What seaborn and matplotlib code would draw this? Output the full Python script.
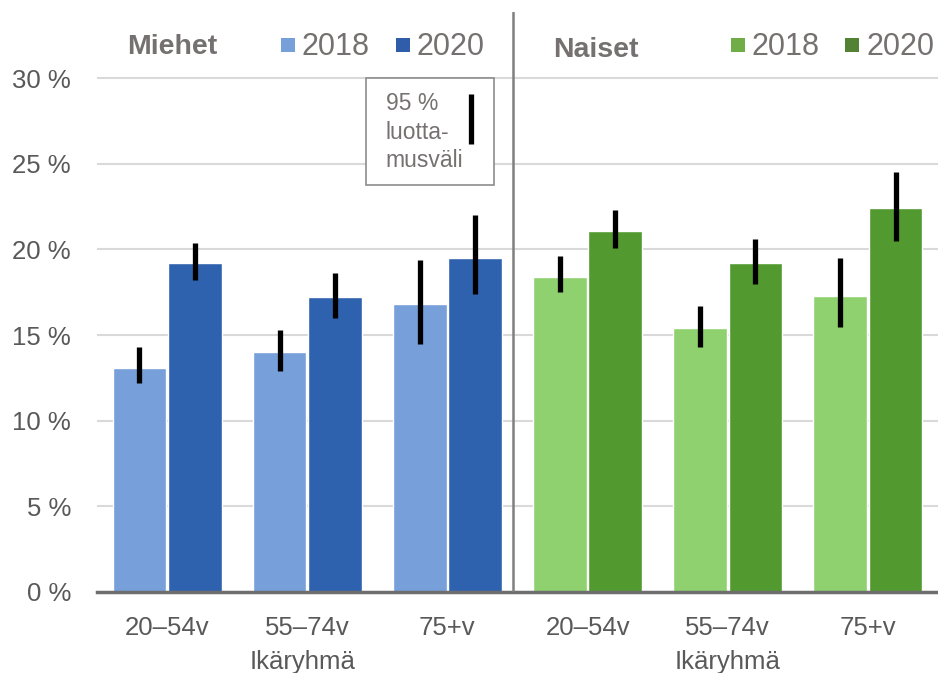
import matplotlib
matplotlib.use("agg")

import matplotlib.pyplot as plt
import seaborn as sns
import pandas as pd
from matplotlib.patches import Rectangle

# data (percent)
age_groups = ["20–54v", "55–74v", "75+v"]
years = ["2018", "2020"]

men_2018 = [13.1, 14.0, 16.8]
men_2018_lo = [12.2, 12.9, 14.5]
men_2018_hi = [14.3, 15.3, 19.4]
men_2020 = [19.2, 17.2, 19.5]
men_2020_lo = [18.2, 16.0, 17.4]
men_2020_hi = [20.4, 18.6, 22.0]

women_2018 = [18.4, 15.4, 17.3]
women_2018_lo = [17.5, 14.3, 15.5]
women_2018_hi = [19.6, 16.7, 19.5]
women_2020 = [21.1, 19.2, 22.4]
women_2020_lo = [20.1, 18.0, 20.5]
women_2020_hi = [22.3, 20.6, 24.5]

men_colors = ["#77A0DA", "#2F62AE"]
women_colors = ["#8FD16E", "#529A2F"]
men_legend = ["#77A0DA", "#2F5DAA"]
women_legend = ["#70AD47", "#548235"]

text_gray = "#767171"
tick_gray = "#595959"

sns.set_theme(style="white")
plt.rcParams["font.family"] = ["Liberation Sans", "DejaVu Sans"]

slots = ["M " + a for a in age_groups] + ["N " + a for a in age_groups]

rows = []
for sex, vals in (("M", (men_2018, men_2018_lo, men_2018_hi, men_2020, men_2020_lo, men_2020_hi)),
                  ("N", (women_2018, women_2018_lo, women_2018_hi, women_2020, women_2020_lo, women_2020_hi))):
    for i, age in enumerate(age_groups):
        rows.append({"sex": sex, "slot": f"{sex} {age}", "year": "2018",
                     "value": vals[0][i], "lo": vals[1][i], "hi": vals[2][i]})
        rows.append({"sex": sex, "slot": f"{sex} {age}", "year": "2020",
                     "value": vals[3][i], "lo": vals[4][i], "hi": vals[5][i]})
df = pd.DataFrame(rows)

fig = plt.figure(figsize=(9.38, 6.73), dpi=100)
ax = fig.add_axes([0.1034, 0.1204, 0.8966, 0.8616])

for sex, colors in (("M", men_colors), ("N", women_colors)):
    sub = df[df["sex"] == sex]
    sns.barplot(data=sub, x="slot", y="value", hue="year", order=slots,
                hue_order=years, palette=colors, width=0.79, gap=0.03,
                errorbar=None, legend=False, ax=ax, saturation=1)

# error bars at the bar centres
for sex_i, sex in enumerate(("M", "N")):
    sub = df[df["sex"] == sex]
    for yi, yr in enumerate(years):
        part = sub[sub["year"] == yr]
        for i, (_, r) in enumerate(part.iterrows()):
            xpos = sex_i * 3 + i + (-0.1975 if yi == 0 else 0.1975)
            ax.vlines(xpos, r["lo"], r["hi"], color="black", lw=3.8, zorder=5)

ax.set_ylim(0, 33.86)
ax.set_xlim(-0.5, 5.5)
ax.set_yticks([0, 5, 10, 15, 20, 25, 30])
ax.set_yticklabels([f"{t} %" for t in [0, 5, 10, 15, 20, 25, 30]])
ax.set_xticks(range(6))
ax.set_xticklabels(age_groups * 2)
ax.tick_params(axis="both", labelsize=18.5, colors=tick_gray, length=0)
ax.tick_params(axis="x", pad=17)
ax.tick_params(axis="y", pad=18.7)
ax.set_xlabel("")
ax.set_ylabel("")
ax.yaxis.grid(True, color="#D9D9D9", lw=1.5)
ax.set_axisbelow(True)
for s in ("top", "right", "left"):
    ax.spines[s].set_visible(False)
ax.spines["bottom"].set_color("#6E6E6E")
ax.spines["bottom"].set_linewidth(2.5)

# divider between men and women
ax.axvline(2.47, color="#7F7F7F", lw=1.8, ymin=0, ymax=1, zorder=6)

# axis titles under each half
for xc in (0.97, 4.0):
    ax.text(xc, -0.12, "Ikäryhmä", transform=ax.get_xaxis_transform(),
            ha="center", va="center", fontsize=18.5, color=tick_gray)

# headers and legends
ax.text(0.04, 31.85, "Miehet", fontsize=20.5, fontweight="bold", color=text_gray,
        ha="center", va="center")
ax.text(3.06, 31.65, "Naiset", fontsize=20.5, fontweight="bold", color=text_gray,
        ha="center", va="center")
legend_items = [(0.86, men_legend[0]), (1.68, men_legend[1]),
                (4.07, women_legend[0]), (4.89, women_legend[1])]
for (xs, col), yr in zip(legend_items, years * 2):
    ax.scatter([xs], [31.95], marker="s", s=88, color=col, linewidths=0,
               clip_on=False, zorder=6)
    ax.text(xs + 0.1, 31.85, yr, fontsize=22, color=text_gray, ha="left", va="center")

# confidence interval key box
box = Rectangle((1.42, 23.76), 0.91, 6.24, facecolor="white", edgecolor="#8C8C8C",
                lw=1.2, zorder=7)
ax.add_patch(box)
ax.text(1.56, 26.85, "95 %\nluotta-\nmusväli", fontsize=16.5, color=text_gray,
        ha="left", va="center", linespacing=1.3, zorder=8)
ax.vlines(2.17, 26.15, 29.07, color="black", lw=3.8, zorder=8)

fig.savefig("out.png", dpi=100)
